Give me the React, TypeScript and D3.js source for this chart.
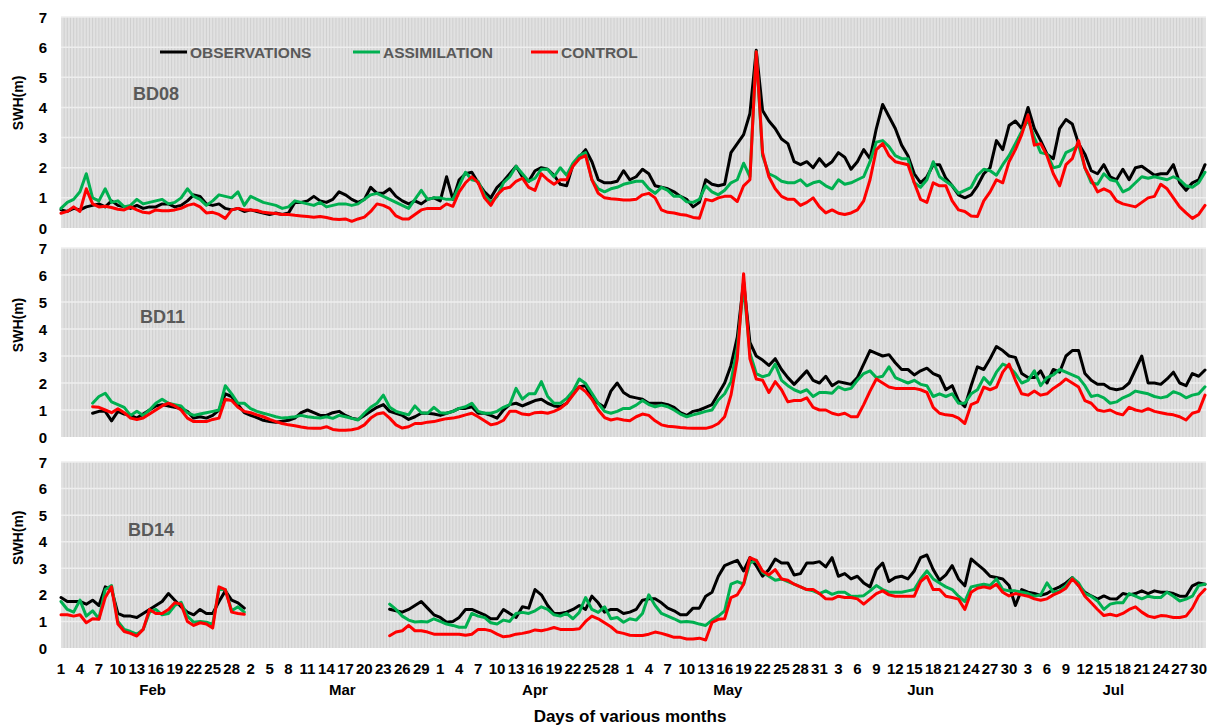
import React from "react";
import * as d3 from "d3";

// Daily significant wave height (m), 1 Feb – 31 Jul 2012, index 0 = 1 Feb.
const START = new Date(2012, 1, 1);
const N_DAYS = 182;
const MONTHS = ["Feb", "Mar", "Apr", "May", "Jun", "Jul"];
const TICK_STEP = 3;
const Y_TICKS = [0, 1, 2, 3, 4, 5, 6, 7];
const SERIES_NAMES = ["OBSERVATIONS", "ASSIMILATION", "CONTROL"];
const SERIES_COLORS = ["#000000", "#00b050", "#ff0000"];

const BD08_OBS = [
  0.6, 0.55, 0.65, 0.6, 0.7, 0.75, 0.8, 0.7, 0.9, 0.75,
  0.7, 0.65, 0.75, 0.65, 0.7, 0.7, 0.8, 0.8, 0.7, 0.75,
  0.9, 1.1, 1.05, 0.8, 0.75, 0.8, 0.65, 0.6, 0.65, 0.55,
  0.6, 0.55, 0.5, 0.45, 0.5, 0.45, 0.5, 0.85, 0.85, 0.9,
  1.05, 0.9, 0.85, 0.95, 1.2, 1.1, 0.95, 0.85, 0.95, 1.35,
  1.15, 1.15, 1.3, 1.05, 0.9, 0.8, 0.9, 0.8, 0.95, 1.0,
  0.9, 1.7, 0.95, 1.6, 1.8, 1.85, 1.5, 1.2, 1.0, 1.35,
  1.55, 1.8, 2.05, 1.7, 1.55, 1.9, 2.0, 1.95, 1.75, 1.45,
  1.4, 2.1, 2.35, 2.6, 2.2, 1.6, 1.5, 1.5, 1.55, 1.9,
  1.6, 1.7, 1.95, 1.8, 1.4, 1.35, 1.3, 1.2, 1.05, 0.95,
  0.7, 0.85, 1.6, 1.45, 1.4, 1.45, 2.5, 2.8, 3.1, 3.8,
  5.9, 3.9, 3.55, 3.3, 2.95, 2.8, 2.2, 2.1, 2.2, 2.0,
  2.3, 2.05, 2.2, 2.5, 2.35, 1.95, 2.2, 2.6, 2.3, 3.3,
  4.1, 3.7, 3.3, 2.75, 2.4, 1.8, 1.5, 1.7, 2.1, 2.1,
  1.65, 1.4, 1.1, 1.0, 1.1, 1.4, 1.8, 2.0, 2.9, 2.6,
  3.4, 3.55, 3.3, 4.0, 3.3, 2.9, 2.45, 2.3, 3.3, 3.6,
  3.45, 2.8, 2.45, 1.9, 1.8, 2.1, 1.7, 1.6, 1.95, 1.6,
  2.0, 2.05, 1.9, 1.75, 1.8, 1.8, 2.1, 1.5, 1.25, 1.5,
  1.6, 2.1,
];
const BD08_ASM = [
  0.65, 0.85, 0.95, 1.2, 1.8, 1.0, 0.9, 1.3, 0.85, 0.9,
  0.7, 0.75, 0.95, 0.8, 0.85, 0.9, 0.95, 0.8, 0.85, 1.0,
  1.3, 1.05, 0.95, 0.75, 0.9, 1.1, 1.05, 1.0, 1.2, 0.75,
  1.05, 0.95, 0.85, 0.8, 0.75, 0.65, 0.7, 0.9, 0.85, 0.8,
  0.75, 0.85, 0.7, 0.75, 0.8, 0.8, 0.75, 0.8, 0.95, 1.1,
  1.15, 1.05, 0.95, 0.85, 0.75, 0.65, 0.95, 1.25, 0.95, 1.0,
  1.0, 0.95, 0.95, 1.4, 1.85, 1.6, 1.55, 1.1, 0.85, 1.05,
  1.5, 1.7, 2.05, 1.8, 1.55, 1.65, 1.95, 1.95, 1.7, 2.0,
  1.75, 2.15, 2.4, 2.5, 1.6, 1.3, 1.2, 1.3, 1.35, 1.45,
  1.5, 1.55, 1.55, 1.3, 1.15, 1.35, 1.25, 1.05, 1.05, 0.87,
  0.85, 0.95, 1.4, 1.2, 1.1, 1.25, 1.5, 1.6, 2.15, 1.7,
  5.85, 2.4, 1.8, 1.7, 1.55, 1.5, 1.5, 1.6, 1.4, 1.5,
  1.55, 1.4, 1.3, 1.6, 1.45, 1.5, 1.6, 1.7, 2.2, 2.85,
  2.9, 2.7, 2.4, 2.3, 2.3, 1.5, 1.35, 1.6, 2.2, 1.7,
  1.55, 1.4, 1.15, 1.25, 1.35, 1.75, 1.95, 1.9, 1.75, 2.1,
  2.4, 2.8, 3.2, 3.6, 3.0, 2.5, 2.45, 2.0, 2.05, 2.5,
  2.6, 2.75, 2.0, 1.5, 1.45, 1.8, 1.6, 1.55, 1.2, 1.3,
  1.5, 1.7, 1.65, 1.7, 1.65, 1.6, 1.7, 1.6, 1.4, 1.35,
  1.5, 1.85,
];
const BD08_CTL = [
  0.49, 0.55, 0.7, 0.55, 1.3, 0.8, 0.7, 0.72, 0.68, 0.62,
  0.6, 0.7, 0.6, 0.52, 0.5, 0.6, 0.57, 0.57, 0.6, 0.65,
  0.75, 0.8, 0.7, 0.5, 0.52, 0.45, 0.32, 0.6, 0.65, 0.6,
  0.6, 0.58, 0.52, 0.5, 0.48, 0.45, 0.45, 0.42, 0.4, 0.38,
  0.36, 0.38, 0.35, 0.3, 0.28, 0.3, 0.22, 0.3, 0.36, 0.55,
  0.8, 0.75, 0.65, 0.4, 0.3, 0.3, 0.45, 0.6, 0.65, 0.65,
  0.65, 0.8, 0.72, 1.2, 1.5, 1.7, 1.5, 1.0, 0.75, 1.1,
  1.3, 1.35, 1.55, 1.65, 1.35, 1.25, 1.8, 1.6, 1.45, 1.6,
  1.6, 2.05, 2.3, 2.4, 1.6, 1.15, 1.0, 0.97, 0.95, 0.93,
  0.93, 0.95, 1.1, 1.15, 1.0, 0.6, 0.52, 0.5, 0.45, 0.42,
  0.35, 0.32, 0.95, 0.9, 1.0, 1.05, 1.05, 0.88, 1.4, 1.6,
  5.85, 2.5, 1.7, 1.3, 1.05, 0.95, 0.95, 0.75, 0.85, 1.0,
  0.7, 0.5, 0.6, 0.49, 0.45, 0.5, 0.6, 0.9, 1.6, 2.6,
  2.8, 2.4, 2.2, 2.15, 2.1, 1.5, 0.95, 0.85, 1.5, 1.4,
  1.4, 0.9, 0.6, 0.55, 0.4, 0.38, 0.9, 1.2, 1.6, 1.5,
  2.2, 2.6, 3.1, 3.75, 2.75, 2.8, 2.4, 1.8, 1.4, 2.1,
  2.3, 2.9, 2.0, 1.6, 1.2, 1.3, 1.2, 0.9, 0.8, 0.75,
  0.7, 0.85, 1.0, 1.05, 1.45, 1.3, 1.0, 0.7, 0.5, 0.32,
  0.45, 0.75,
];

const BD11_OBS = [
  null, null, null, null, null, 0.88, 0.95, 0.95, 0.6, 0.95,
  0.85, 0.8, 0.7, 0.85, 1.0, 1.15, 1.2, 1.15, 1.1, 1.05,
  0.95, 0.7, 0.75, 0.7, 0.8, 1.0, 1.6, 1.5, 1.2, 0.9,
  0.8, 0.72, 0.62, 0.57, 0.55, 0.58, 0.62, 0.7, 0.9, 1.0,
  0.9, 0.8, 0.8, 0.9, 0.95, 0.8, 0.7, 0.65, 0.8, 0.95,
  1.1, 1.2, 0.95, 0.88, 0.8, 0.65, 0.75, 0.88, 0.88, 0.85,
  0.8, 0.88, 0.95, 1.06, 1.06, 1.12, 0.88, 0.88, 0.8, 0.7,
  1.0, 1.2, 1.25, 1.15, 1.25, 1.35, 1.4, 1.25, 1.15, 1.12,
  1.25, 1.6, 1.86, 1.9, 1.45, 1.25, 1.1, 1.7, 2.0, 1.65,
  1.5, 1.45, 1.4, 1.25, 1.25, 1.25, 1.2, 1.1, 0.9, 0.8,
  0.95, 1.0, 1.1, 1.2, 1.6, 2.0, 2.65, 3.7, 5.75, 3.5,
  3.0, 2.85, 2.65, 2.9, 2.5, 2.2, 1.95, 2.2, 2.45, 2.1,
  2.0, 2.25, 1.9, 2.05, 2.0, 1.95, 2.2, 2.7, 3.2, 3.1,
  3.0, 3.05, 2.75, 2.5, 2.5, 2.3, 2.45, 2.55, 2.35, 2.25,
  1.75, 1.9, 1.35, 1.12, 1.9, 2.6, 2.5, 2.9, 3.35, 3.2,
  3.0, 2.95, 2.35, 2.2, 2.2, 2.45, 2.0, 2.5, 2.4, 3.0,
  3.2, 3.2, 2.35, 2.1, 1.95, 1.95, 1.8, 1.75, 1.8, 2.0,
  2.5, 3.0, 2.0, 2.0, 1.95, 2.15, 2.4, 2.0, 1.9, 2.35,
  2.25, 2.48,
];
const BD11_ASM = [
  null, null, null, null, null, 1.25, 1.5, 1.62, 1.3, 1.2,
  1.1, 0.8, 0.95, 0.8, 1.0, 1.25, 1.4, 1.25, 1.2, 1.15,
  0.9, 0.8, 0.85, 0.9, 0.95, 1.0, 1.9, 1.6, 1.25, 1.25,
  1.05, 0.95, 0.88, 0.82, 0.75, 0.7, 0.72, 0.75, 0.8, 0.75,
  0.72, 0.7, 0.75, 0.69, 0.8, 0.75, 0.69, 0.63, 0.88, 1.1,
  1.25, 1.55, 1.1, 0.95, 0.88, 0.82, 1.15, 0.9, 0.88, 1.1,
  0.9, 0.88, 0.95, 1.06, 1.12, 1.25, 0.95, 0.88, 0.88, 0.95,
  1.1, 1.2, 1.8, 1.4, 1.6, 1.6, 2.05, 1.5, 1.25, 1.25,
  1.43, 1.7, 2.15, 1.98, 1.62, 1.25, 0.95, 0.88, 0.95, 1.06,
  1.06, 1.18, 1.35, 1.2, 1.12, 1.18, 1.12, 1.0, 0.85, 0.75,
  0.82, 0.88, 0.95, 1.0, 1.37, 1.6, 2.05, 3.3, 5.6, 3.1,
  2.35, 2.23, 2.3, 2.7, 2.1, 1.9, 1.75, 1.65, 1.75, 1.5,
  1.65, 1.65, 1.62, 1.86, 1.75, 1.8, 2.1, 2.35, 2.45, 2.2,
  2.25, 2.6, 2.2, 2.1, 2.0, 2.1, 1.95, 1.9, 1.5, 1.6,
  1.5, 1.6, 1.25, 1.25, 1.6, 1.75, 2.2, 1.95, 2.4, 2.7,
  2.6, 2.35, 2.0, 2.1, 2.45, 1.9, 2.2, 2.3, 2.5, 2.4,
  2.3, 2.2, 1.9, 1.5, 1.55, 1.45, 1.25, 1.3, 1.45, 1.55,
  1.7, 1.65, 1.6, 1.5, 1.45, 1.5, 1.68, 1.6, 1.45, 1.55,
  1.6, 1.86,
];
const BD11_CTL = [
  null, null, null, null, null, 1.12, 1.1, 1.0, 0.9, 1.05,
  0.9, 0.7, 0.65, 0.7, 0.85, 1.0, 1.15, 1.25, 1.15, 1.0,
  0.7, 0.57, 0.57, 0.57, 0.65, 0.7, 1.4, 1.35, 1.1, 0.95,
  0.9, 0.82, 0.75, 0.65, 0.57, 0.5, 0.45, 0.42, 0.37, 0.33,
  0.32, 0.32, 0.38, 0.28, 0.25, 0.25, 0.27, 0.32, 0.45, 0.7,
  0.85, 0.9, 0.7, 0.45, 0.33, 0.38, 0.5, 0.5, 0.55, 0.57,
  0.63, 0.68, 0.7, 0.75, 0.82, 0.88, 0.75, 0.6, 0.45, 0.5,
  0.62, 0.95, 0.95, 0.85, 0.82, 0.9, 0.92, 0.88, 0.95, 1.06,
  1.25, 1.55, 1.86, 1.68, 1.4, 1.0, 0.72, 0.63, 0.68, 0.63,
  0.6, 0.75, 0.85, 0.8, 0.6, 0.45, 0.4, 0.38, 0.35, 0.33,
  0.32, 0.32, 0.32, 0.38, 0.5, 0.75, 1.55, 2.9, 6.05, 2.9,
  2.15, 2.1, 1.65, 2.05, 1.75, 1.3, 1.35, 1.35, 1.45, 1.1,
  1.0, 1.0, 0.88, 0.82, 0.88, 0.75, 0.75, 1.2, 1.7, 2.15,
  2.0, 1.85, 1.8, 1.8, 1.8, 1.8, 1.75, 1.65, 1.1, 0.88,
  0.82, 0.8, 0.7, 0.5, 1.2, 1.3, 1.85, 1.75, 1.85, 2.4,
  2.7, 2.1, 1.6, 1.55, 1.7, 1.55, 1.6, 1.8, 1.95, 2.15,
  2.0, 1.85, 1.35, 1.25, 1.0, 0.95, 1.0, 0.88, 0.82, 1.1,
  1.0, 0.95, 1.05, 0.95, 0.9, 0.85, 0.82, 0.75, 0.63, 0.88,
  0.95, 1.55,
];

const BD14_OBS = [
  1.9, 1.75, 1.75, 1.75, 1.65, 1.8, 1.6, 2.3, 2.2, 1.3,
  1.2, 1.2, 1.15, 1.3, 1.45, 1.6, 1.75, 2.05, 1.8, 1.55,
  1.35, 1.25, 1.45, 1.3, 1.3, 1.75, 2.15, 1.8, 1.7, 1.5,
  null, null, null, null, null, null, null, null, null, null,
  null, null, null, null, null, null, null, null, null, null,
  null, null, 1.46, 1.4, 1.35, 1.45, 1.6, 1.75, 1.5, 1.25,
  1.15, 0.97, 1.0, 1.15, 1.45, 1.45, 1.35, 1.25, 1.1, 1.1,
  1.45, 1.3, 1.15, 1.55, 1.5, 2.2, 2.0, 1.6, 1.3, 1.3,
  1.35, 1.45, 1.6, 1.45, 1.95, 1.7, 1.35, 1.45, 1.45, 1.3,
  1.35, 1.45, 1.8, 1.85, 1.85, 1.7, 1.5, 1.4, 1.25, 1.25,
  1.5, 1.5, 1.95, 2.1, 2.7, 3.1, 3.2, 3.3, 2.9, 3.4,
  3.1, 2.7, 2.95, 3.35, 3.2, 3.2, 2.75, 2.8, 3.2, 3.2,
  3.25, 3.05, 3.4, 2.7, 2.8, 2.6, 2.7, 2.45, 2.3, 2.95,
  3.2, 2.5, 2.65, 2.7, 2.6, 2.9, 3.4, 3.5, 2.95, 2.55,
  2.75, 3.1, 2.6, 2.34, 3.35, 3.15, 2.95, 2.7, 2.65, 2.6,
  2.35, 1.6, 2.2, 2.1, 2.05, 1.98, 2.05, 2.2, 2.3, 2.45,
  2.65, 2.35, 2.1, 1.96, 1.84, 1.96, 1.85, 1.84, 2.05, 2.0,
  2.05, 2.15, 2.05, 2.15, 2.1, 2.1, 2.05, 1.95, 1.95, 2.34,
  2.45, 2.4,
];
const BD14_ASM = [
  1.75, 1.45, 1.35, 1.8, 1.2, 1.4, 1.1, 2.2, 2.35, 1.0,
  0.7, 0.62, 0.52, 0.7, 1.35, 1.45, 1.25, 1.3, 1.6, 1.72,
  1.2, 0.97, 1.0, 0.97, 0.9, 2.2, 2.2, 1.4, 1.55, 1.35,
  null, null, null, null, null, null, null, null, null, null,
  null, null, null, null, null, null, null, null, null, null,
  null, null, 1.65, 1.45, 1.2, 1.05, 0.98, 1.0, 0.98, 1.1,
  1.0, 0.9, 0.85, 0.78, 0.78, 1.3, 1.2, 1.15, 0.95, 0.9,
  1.05, 1.0, 1.3, 1.34, 1.3, 1.4, 1.55, 1.45, 1.25, 1.2,
  1.3, 1.1, 1.34, 1.9, 1.45, 1.34, 1.55, 1.1, 1.15, 0.97,
  1.1, 1.05, 1.3, 2.0, 1.6, 1.3, 1.2, 1.1, 0.98, 1.0,
  0.97, 0.9, 0.85, 1.05, 1.2, 1.4, 2.4, 2.5, 2.4, 3.2,
  3.3, 2.85, 2.7, 2.55, 2.6, 2.5, 2.4, 2.3, 2.2, 2.15,
  2.05, 2.15, 2.02, 2.1, 2.1, 1.95, 1.95, 1.97, 2.15, 2.35,
  2.2, 2.1, 2.1, 2.1, 2.15, 2.2, 2.6, 2.9, 2.6, 2.45,
  2.3, 2.2, 1.95, 1.75, 2.3, 2.35, 2.4, 2.35, 2.6, 2.2,
  2.15, 2.15, 2.1, 2.05, 1.95, 2.0, 2.45, 2.1, 2.15, 2.35,
  2.65, 2.45, 2.05, 1.95, 1.77, 1.45, 1.65, 1.7, 1.7, 2.05,
  1.95, 1.85, 1.95, 1.9, 1.9, 2.1, 1.95, 1.77, 1.84, 1.95,
  2.35, 2.4,
];
const BD14_CTL = [
  1.25, 1.25, 1.2, 1.25, 0.95, 1.1, 1.08, 1.9, 2.3, 0.9,
  0.62, 0.55, 0.45, 0.7, 1.45, 1.3, 1.3, 1.45, 1.7, 1.65,
  1.0, 0.85, 0.95, 0.9, 0.75, 2.3, 2.2, 1.35, 1.3, 1.27,
  null, null, null, null, null, null, null, null, null, null,
  null, null, null, null, null, null, null, null, null, null,
  null, null, 0.46, 0.6, 0.65, 0.85, 0.65, 0.65, 0.6, 0.52,
  0.52, 0.52, 0.52, 0.52, 0.48, 0.52, 0.7, 0.7, 0.65, 0.52,
  0.42, 0.45, 0.52, 0.55, 0.6, 0.68, 0.65, 0.7, 0.77, 0.7,
  0.7, 0.7, 0.72, 1.0, 1.2, 1.1, 0.95, 0.8, 0.6, 0.55,
  0.48, 0.47, 0.47, 0.52, 0.6, 0.55, 0.48, 0.4, 0.4, 0.34,
  0.34, 0.37, 0.3, 0.96, 1.08, 1.1, 1.9, 2.0, 2.4, 3.4,
  3.3, 2.9, 2.75, 2.95, 2.6, 2.55, 2.4, 2.3, 2.2, 2.2,
  2.05, 1.85, 1.84, 1.95, 1.9, 1.9, 1.85, 1.65, 1.85, 2.05,
  2.15, 2.0, 1.95, 1.95, 1.95, 1.95, 2.5, 2.7, 2.2, 2.2,
  1.95, 1.9, 1.84, 1.45, 2.1, 2.25, 2.3, 2.25, 2.4, 2.1,
  1.96, 2.05, 2.0, 1.95, 1.85, 1.8, 1.85, 2.0, 2.1, 2.25,
  2.6, 2.35, 1.95, 1.7, 1.45, 1.22, 1.27, 1.21, 1.3, 1.45,
  1.55, 1.35, 1.2, 1.15, 1.22, 1.2, 1.15, 1.15, 1.2, 1.5,
  1.96, 2.21,
];

type Series = (number | null)[];

const PANELS = [
  { name: "BD08", top: 17, bottom: 228, series: [BD08_OBS, BD08_ASM, BD08_CTL], labelDay: 11.4, legend: true },
  { name: "BD11", top: 248, bottom: 437, series: [BD11_OBS, BD11_ASM, BD11_CTL], labelDay: 12.5, legend: false },
  { name: "BD14", top: 462, bottom: 648, series: [BD14_OBS, BD14_ASM, BD14_CTL], labelDay: 10.6, legend: false },
];

const FONT = "'Liberation Sans', Arial, Helvetica, sans-serif";
const W = 1219;
const H = 728;
const PLOT_LEFT = 61;
const PLOT_RIGHT = 1206;
const LEGEND_X = [160, 353, 531];

export default function App() {
  const x = d3.scaleLinear().domain([0, N_DAYS - 1]).range([PLOT_LEFT, 1205]);

  const ticks = d3.range(0, N_DAYS, TICK_STEP).map((d) => ({
    d,
    label: String(d3.timeDay.offset(START, d).getDate()),
  }));

  const months = MONTHS.map((m, i) => {
    const s = d3.timeDay.count(START, new Date(2012, 1 + i, 1));
    const e = d3.timeDay.count(START, new Date(2012, 2 + i, 1));
    return { m, center: (s + e) / 2 };
  });

  const gridX = d3.range(0.5, N_DAYS - 1, 0.5);

  return (
    <div style={{ position: "absolute", left: 0, top: 0, width: W, height: H, background: "#fff" }}>
      <svg width={W} height={H} style={{ display: "block", fontFamily: FONT }}>
        <rect x={0} y={0} width={W} height={H} fill="#ffffff" />
        {PANELS.map((p) => {
          const y = d3.scaleLinear().domain([0, 7]).range([p.bottom, p.top]);
          const line = d3
            .line<number | null>()
            .defined((v) => v != null)
            .x((_, i) => x(i))
            .y((v) => y(v as number));
          return (
            <g key={p.name}>
              <rect x={PLOT_LEFT} y={p.top} width={PLOT_RIGHT - PLOT_LEFT} height={p.bottom - p.top} fill="#e1e1e1" />
              {gridX.map((g, i) => (
                <line key={i} x1={x(g)} x2={x(g)} y1={p.top} y2={p.bottom} stroke="#cfcfcf" strokeWidth={1} />
              ))}
              {Y_TICKS.filter((t) => t > 0).map((t) => (
                <line key={t} x1={PLOT_LEFT} x2={PLOT_RIGHT} y1={y(t)} y2={y(t)} stroke="#eeeeee" strokeWidth={1.5} />
              ))}
              {Y_TICKS.map((t) => (
                <text key={t} x={47} y={y(t)} textAnchor="end" dominantBaseline="central" fontSize={15} fontWeight="bold" fill="#000">
                  {t}
                </text>
              ))}
              <text
                transform={`translate(18,${y(4.15)}) rotate(-90)`}
                textAnchor="middle"
                dominantBaseline="central"
                fontSize={14}
                fontWeight="bold"
                fill="#000"
              >
                SWH(m)
              </text>
              <text x={x(p.labelDay)} y={y(4.43)} dominantBaseline="central" fontSize={18} fontWeight="bold" fill="#595959">
                {p.name}
              </text>
              {(p.series as Series[]).map((s, i) => (
                <path
                  key={i}
                  d={line(s) || ""}
                  fill="none"
                  stroke={SERIES_COLORS[i]}
                  strokeWidth={3}
                  strokeLinejoin="round"
                  strokeLinecap="round"
                />
              ))}
              {p.legend &&
                SERIES_NAMES.map((n, i) => (
                  <g key={n}>
                    <line x1={LEGEND_X[i]} x2={LEGEND_X[i] + 27} y1={52} y2={52} stroke={SERIES_COLORS[i]} strokeWidth={3} />
                    <text x={LEGEND_X[i] + 30} y={52} dominantBaseline="central" fontSize={15.5} fontWeight="bold" fill="#595959">
                      {n}
                    </text>
                  </g>
                ))}
            </g>
          );
        })}
        {ticks.map((t) => (
          <text key={t.d} x={x(t.d)} y={674} textAnchor="middle" fontSize={15} fontWeight="bold" fill="#000">
            {t.label}
          </text>
        ))}
        {months.map((mo) => (
          <text key={mo.m} x={x(mo.center)} y={695} textAnchor="middle" fontSize={15} fontWeight="bold" fill="#000">
            {mo.m}
          </text>
        ))}
        <text x={630} y={722} textAnchor="middle" fontSize={17} fontWeight="bold" fill="#000">
          Days of various months
        </text>
      </svg>
    </div>
  );
}
